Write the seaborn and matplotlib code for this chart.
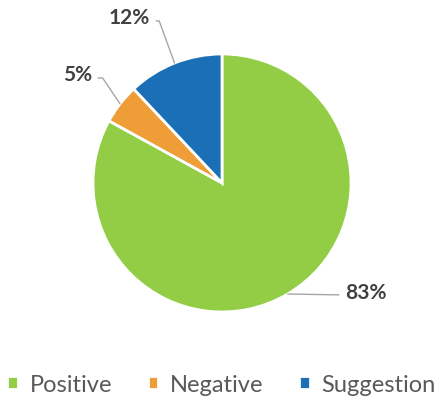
import matplotlib
matplotlib.use("Agg")
import matplotlib.pyplot as plt
import numpy as np
import seaborn as sns

categorias = ["Positive", "Negative", "Suggestion"]
percentuais = [83, 5, 12]
rotulos = ["83%", "5%", "12%"]
cores = ["#92CD45", "#EF9D36", "#1A6FB6"]

sns.set_theme(style="white")
plt.rcParams["font.family"] = ["Lato", "DejaVu Sans"]

fig = plt.figure(figsize=(4.43, 4.02), dpi=100)
fig.patch.set_facecolor("white")
ax = fig.add_axes([0, 0, 1, 1])

# Pizza no sentido horário começando no topo
wedges, _ = ax.pie(
    percentuais,
    colors=cores,
    startangle=90,
    counterclock=False,
    wedgeprops=dict(edgecolor="white", linewidth=2),
)

# Mesma escala nos dois eixos (129 px por unidade)
ax.set_xlim(-1.721, 1.713)
ax.set_ylim(-1.690, 1.426)
ax.set_aspect("equal")
ax.axis("off")

# Rótulos com linhas de chamada
posicoes = {
    "83%": dict(xytext=(0.953, -0.845), ha="left", conn="arc3", relpos=(0, 0.35)),
    "5%": dict(xytext=(-1.008, 0.845), ha="right", conn="angle,angleA=0,angleB=124", relpos=(1, 0.3)),
    "12%": dict(xytext=(-0.558, 1.287), ha="right", conn="angle,angleA=0,angleB=110", relpos=(1, 0.3)),
}
for w, rot in zip(wedges, rotulos):
    ang = np.deg2rad((w.theta1 + w.theta2) / 2)
    ponto = (np.cos(ang), np.sin(ang))
    p = posicoes[rot]
    ax.annotate(
        rot, xy=ponto, xytext=p["xytext"], ha=p["ha"], va="center",
        fontsize=15, fontweight="bold", color="#404040",
        arrowprops=dict(arrowstyle="-", color="#A6A6A6", lw=1,
                        connectionstyle=p["conn"], relpos=p["relpos"],
                        shrinkA=2, shrinkB=0),
    )

leg = fig.legend(
    wedges, categorias, loc="center", bbox_to_anchor=(0.5, 0.042),
    ncol=3, frameon=False, fontsize=17, handlelength=0.45, handleheight=0.45,
    handletextpad=0.5, columnspacing=1.5,
)
for t in leg.get_texts():
    t.set_color("#595959")

fig.savefig("out.png", dpi=100)
